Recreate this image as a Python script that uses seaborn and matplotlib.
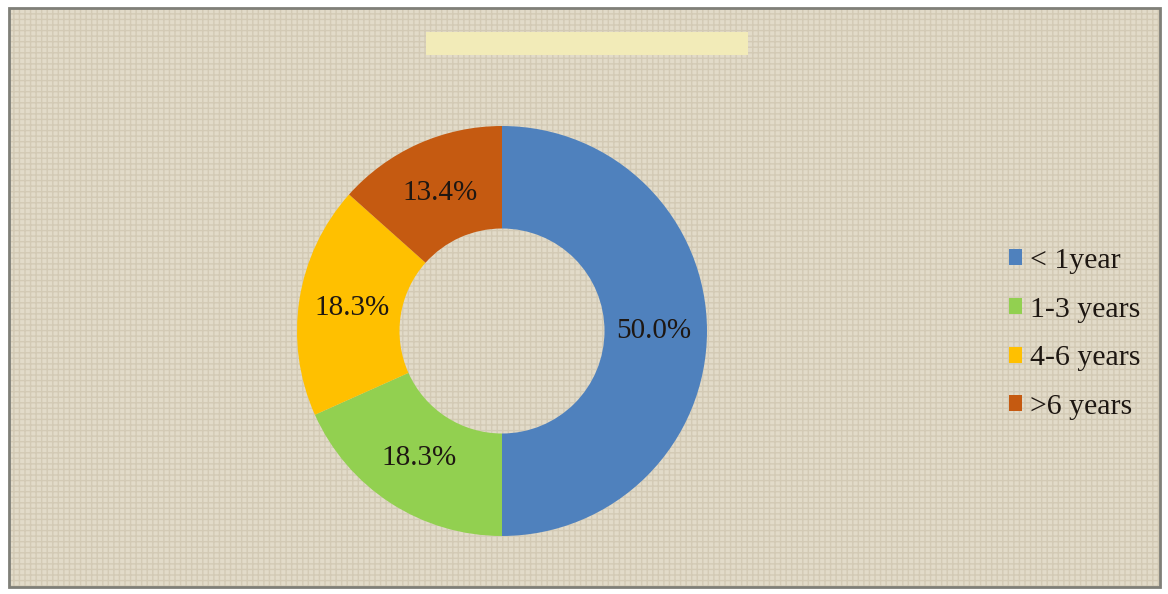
import matplotlib
matplotlib.use("Agg")
import matplotlib.pyplot as plt
from matplotlib.patches import Rectangle
import seaborn as sns

# Experience groups and their shares (%)
categories = ["< 1year", "1-3 years", "4-6 years", ">6 years"]
shares = [50.0, 18.3, 18.3, 13.4]
colors = ["#4F81BD", "#92D050", "#FFC000", "#C55A11"]

sns.set_theme(style="white")
plt.rcParams["font.family"] = ["Liberation Serif", "DejaVu Serif"]

W, H = 1168, 594
fig = plt.figure(figsize=(W / 100, H / 100), dpi=100)
fig.patch.set_facecolor("white")

# linen-style background panel with a thin frame
bg = fig.add_axes([0, 0, 1, 1])
bg.set_xlim(0, W)
bg.set_ylim(H, 0)
bg.axis("off")
bg.add_patch(Rectangle((9, 8), W - 17, H - 15, facecolor="#E2DBC9",
                       edgecolor="none", zorder=0))
bg.add_patch(Rectangle((9, 8), W - 17, H - 15, facecolor="none",
                       edgecolor="#D3CAB5", hatch="+++", linewidth=0, zorder=1))
bg.add_patch(Rectangle((9, 8), W - 17, H - 15, facecolor="none",
                       edgecolor="#7F7F78", linewidth=2.0, zorder=2))
# highlighted title band
bg.add_patch(Rectangle((426, 32), 322, 23, facecolor="#F2EBB8",
                       edgecolor="none", zorder=3))

# doughnut
cx, cy, r = 502, 331, 205
ax = fig.add_axes([(cx - r) / W, (H - cy - r) / H, 2 * r / W, 2 * r / H])
ax.set_facecolor("none")
wedges, texts, autotexts = ax.pie(
    shares, colors=colors, startangle=90, counterclock=False,
    radius=1.0, wedgeprops=dict(width=0.5, linewidth=0),
    autopct="%.1f%%", pctdistance=0.74,
    textprops=dict(fontsize=21, color="#1E1712"),
)
ax.set_xlim(-1, 1)
ax.set_ylim(-1, 1)
ax.set_aspect("equal")
ax.axis("off")

fig.legend(wedges, categories, loc="center left",
           bbox_to_anchor=(1009 / W, 1 - 334 / H), frameon=False,
           fontsize=21.5, handlelength=0.45, handleheight=0.45,
           handletextpad=0.25, labelspacing=0.76, borderaxespad=0,
           borderpad=0, labelcolor="#1E1712")

fig.savefig("out.png", dpi=100)
